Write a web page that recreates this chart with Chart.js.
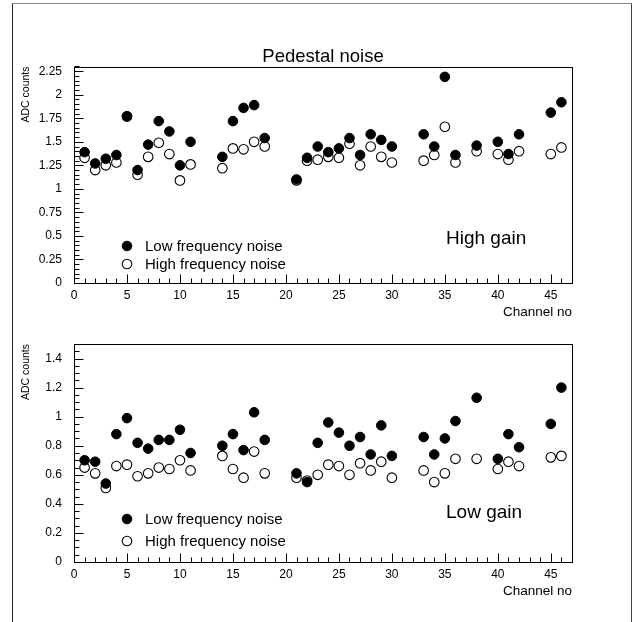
<!DOCTYPE html>
<html>
<head>
<meta charset="utf-8">
<script src="https://cdn.jsdelivr.net/npm/chart.js@4"></script>
<style>
  html, body { margin: 0; padding: 0; background: #fff; }
  #page { position: relative; width: 634px; height: 622px; overflow: hidden; }
  #frame { position: absolute; left: 12px; top: 3px; width: 620px; height: 650px; box-sizing: border-box;
           border-left: 1px solid #222; border-right: 1px solid #444; border-top: 1px solid #888; }
  canvas { position: absolute; left: 0; }
</style>
</head>
<body>
<div id="page">
  <div id="frame"></div>
  <canvas id="highGainChart" width="634" height="325" style="top:0px"></canvas>
  <canvas id="lowGainChart" width="634" height="342" style="top:280px"></canvas>
</div>
<script>
const channels = [1, 2, 3, 4, 5, 6, 7, 8, 9, 10, 11, 14, 15, 16, 17, 18, 21, 22, 23, 24,
                  25, 26, 27, 28, 29, 30, 33, 34, 35, 36, 38, 40, 41, 42, 45, 46];

// high gain
const highGainLowFreq = [1.39, 1.27, 1.32, 1.36, 1.77, 1.20, 1.47, 1.72, 1.61, 1.25, 1.50, 1.34, 1.72, 1.86, 1.89, 1.54, 1.10, 1.33, 1.45, 1.39,
                         1.43, 1.54, 1.36, 1.58, 1.52, 1.45, 1.58, 1.45, 2.19, 1.36, 1.46, 1.50, 1.37, 1.58, 1.81, 1.92];
const highGainHighFreq = [1.33, 1.20, 1.25, 1.28, 1.77, 1.15, 1.34, 1.49, 1.37, 1.09, 1.26, 1.22, 1.43, 1.42, 1.50, 1.45, 1.09, 1.30, 1.31, 1.34,
                          1.33, 1.48, 1.25, 1.45, 1.34, 1.28, 1.30, 1.36, 1.66, 1.28, 1.40, 1.37, 1.31, 1.40, 1.37, 1.44];

// low gain
const lowGainLowFreq = [0.70, 0.69, 0.54, 0.88, 0.99, 0.82, 0.78, 0.84, 0.84, 0.91, 0.75, 0.80, 0.88, 0.77, 1.03, 0.84, 0.61, 0.55, 0.82, 0.96,
                        0.89, 0.80, 0.86, 0.74, 0.94, 0.73, 0.86, 0.74, 0.85, 0.97, 1.13, 0.71, 0.88, 0.79, 0.95, 1.20];
const lowGainHighFreq = [0.65, 0.61, 0.51, 0.66, 0.67, 0.59, 0.61, 0.65, 0.64, 0.70, 0.63, 0.73, 0.64, 0.58, 0.76, 0.61, 0.58, 0.56, 0.60, 0.67,
                         0.66, 0.60, 0.68, 0.63, 0.69, 0.58, 0.63, 0.55, 0.61, 0.71, 0.71, 0.64, 0.69, 0.66, 0.72, 0.73];

const xTicks = [0, 5, 10, 15, 20, 25, 30, 35, 40, 45];
const yTicksHigh = [0, 0.25, 0.5, 0.75, 1, 1.25, 1.5, 1.75, 2, 2.25];
const yTicksLow = [0, 0.2, 0.4, 0.6, 0.8, 1, 1.2, 1.4];

const seriesLabels = ['Low frequency noise', 'High frequency noise'];

const textFamily = '"Liberation Sans", Arial, sans-serif';
const tickFont = { family: textFamily, size: 12 };

// frame, inward tick marks, legend and gain label
const paperPlugin = {
    id: 'paper',
    afterDraw(chart, args, opts) {
        const { ctx, chartArea: a } = chart;
        const xs = chart.scales.x, ys = chart.scales.y;
        const majors = opts.yMajor;
        ctx.save();
        ctx.strokeStyle = '#000';
        ctx.lineWidth = 1;

        const L = Math.round(a.left) + 0.5, B = Math.round(a.bottom) + 0.5;
        ctx.strokeRect(L, Math.round(a.top) + 0.5, Math.round(a.right) - Math.round(a.left), Math.round(a.bottom) - Math.round(a.top));

        for (let k = 0; k * 0.05 <= ys.max + 1e-9; k++) {
            const v = k * 0.05;
            const py = Math.round(ys.getPixelForValue(v)) + 0.5;
            const major = majors.some(t => Math.abs(t - v) < 1e-6);
            ctx.beginPath();
            ctx.moveTo(L, py);
            ctx.lineTo(L + (major ? 9 : 5), py);
            ctx.stroke();
        }
        for (let v = 0; v <= xs.max; v += 1) {
            const px = Math.round(xs.getPixelForValue(v)) + 0.5;
            const major = v % 5 === 0;
            ctx.beginPath();
            ctx.moveTo(px, B);
            ctx.lineTo(px, B - (major ? 9 : 5));
            ctx.stroke();
        }

        // legend
        ctx.font = '15px ' + textFamily;
        ctx.textBaseline = 'middle';
        ctx.textAlign = 'left';
        chart.data.datasets.forEach((ds, i) => {
            const cx = a.left + 53, cy = a.bottom - opts.legendOffsets[i];
            ctx.beginPath();
            ctx.arc(cx, cy, ds.pointRadius, 0, Math.PI * 2);
            ctx.fillStyle = ds.pointBackgroundColor;
            ctx.fill();
            ctx.lineWidth = ds.pointBorderWidth;
            ctx.strokeStyle = ds.pointBorderColor;
            ctx.stroke();
            ctx.fillStyle = '#000';
            ctx.fillText(ds.label, cx + 18, cy + 1);
        });

        ctx.font = '19px ' + textFamily;
        ctx.fillStyle = '#000';
        ctx.fillText(opts.gainLabel, a.left + 372, a.bottom - opts.gainOffset);
        ctx.restore();
    }
};

function makeDatasets(lowFreq, highFreq) {
    return [
        {
            label: seriesLabels[0],
            data: channels.map((c, i) => ({ x: c, y: lowFreq[i] })),
            pointRadius: 4.8,
            pointBackgroundColor: '#000',
            pointBorderColor: '#000',
            pointBorderWidth: 1
        },
        {
            label: seriesLabels[1],
            data: channels.map((c, i) => ({ x: c, y: highFreq[i] })),
            pointRadius: 4.8,
            pointBackgroundColor: '#fff',
            pointBorderColor: '#000',
            pointBorderWidth: 1.1
        }
    ];
}

function renderChart(canvasId, datasets, opts) {
    const ctx = document.getElementById(canvasId).getContext('2d');
    return new Chart(ctx, {
        type: 'scatter',
        data: { datasets },
        options: {
            responsive: false,
            animation: false,
            events: [],
            layout: { padding: { left: 20, right: 62, top: opts.padTop, bottom: opts.padBottom } },
            plugins: {
                legend: { display: false },
                tooltip: { enabled: false },
                title: {
                    display: !!opts.title,
                    text: opts.title,
                    fullSize: false,
                    color: '#000',
                    font: { family: textFamily, size: 18.5, weight: 'normal', lineHeight: 1.0 },
                    padding: { top: 48, bottom: 0 }
                },
                paper: { yMajor: opts.yTicks, legendOffsets: opts.legendOffsets, gainLabel: opts.gainLabel, gainOffset: opts.gainOffset }
            },
            scales: {
                x: {
                    type: 'linear',
                    min: 0,
                    max: 47,
                    afterBuildTicks: s => { s.ticks = xTicks.map(v => ({ value: v })); },
                    afterFit: s => { s.height = 37; },
                    grid: { display: false, drawTicks: false },
                    border: { display: false },
                    ticks: { color: '#000', font: tickFont, padding: 5, maxRotation: 0, autoSkip: false,
                             callback: v => String(v) },
                    title: {
                        display: true, text: 'Channel no', align: 'end', color: '#000',
                        font: { family: textFamily, size: 13.5 }, padding: 0
                    }
                },
                y: {
                    type: 'linear',
                    min: 0,
                    max: opts.yMax,
                    afterBuildTicks: s => { s.ticks = opts.yTicks.map(v => ({ value: v })); },
                    afterFit: s => { s.width = 54; },
                    grid: { display: false, drawTicks: false },
                    border: { display: false },
                    ticks: { color: '#000', font: tickFont, padding: 12, autoSkip: false,
                             callback: v => String(v) },
                    title: {
                        display: true, text: 'ADC counts', align: 'end', color: '#000',
                        font: { family: textFamily, size: 10.5 }, padding: 0
                    }
                }
            }
        },
        plugins: [paperPlugin]
    });
}

renderChart('highGainChart', makeDatasets(highGainLowFreq, highGainHighFreq), {
    title: 'Pedestal noise', yMax: 2.3, yTicks: yTicksHigh, padTop: 0, padBottom: 5,
    legendOffsets: [37, 19], gainLabel: 'High gain', gainOffset: 44
});

renderChart('lowGainChart', makeDatasets(lowGainLowFreq, lowGainHighFreq), {
    title: '', yMax: 1.5, yTicks: yTicksLow, padTop: 64, padBottom: 23,
    legendOffsets: [43, 21], gainLabel: 'Low gain', gainOffset: 49
});
</script>
</body>
</html>
